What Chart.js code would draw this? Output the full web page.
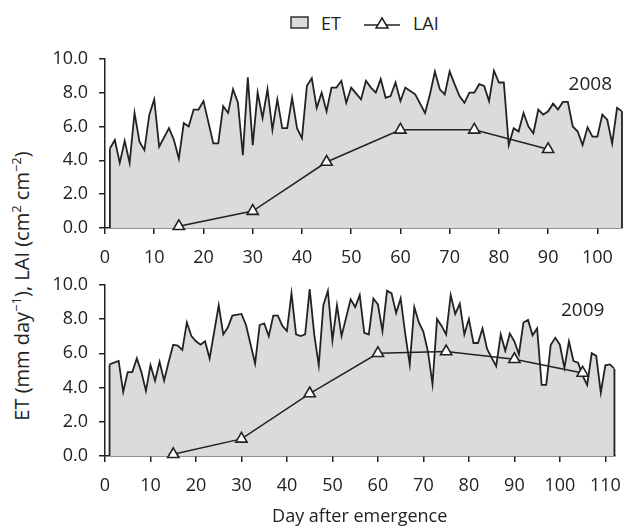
<!DOCTYPE html>
<html>
<head>
<meta charset="utf-8">
<script src="https://cdn.jsdelivr.net/npm/chart.js@4.4.1/dist/chart.umd.min.js"></script>
<style>
  body { margin: 0; background: #fff; }
  #wrap { position: relative; width: 634px; height: 529px; font-family: 'Open Sans', sans-serif; color: #222; }
  canvas { position: absolute; left: 0; }
  #legend { position: absolute; top: 11px; left: 290px; font-size: 18px; display: flex; align-items: center; white-space: nowrap; }
  #legend svg { display: block; }
  #ytitle { position: absolute; left: 21px; top: 286px; transform: translate(-50%, -50%) rotate(-90deg); font-size: 20px; white-space: nowrap; }
  #ytitle sup { font-size: 13px; }
</style>
</head>
<body>
<div id="wrap">
  <div id="legend">
    <svg width="20" height="14"><rect x="1" y="1" width="17" height="11" fill="#dadbdd" stroke="#333" stroke-width="1.5"/></svg>
    <span style="margin-left:11px">ET</span>
    <svg width="38" height="16" style="margin-left:22px"><line x1="1" y1="10" x2="37" y2="10" stroke="#222" stroke-width="1.5"/><polygon points="19,3 25,13 13,13" fill="#fff" stroke="#222" stroke-width="1.5"/></svg>
    <span style="margin-left:12px">LAI</span>
  </div>
  <div id="ytitle">ET (mm day<sup>−1</sup>), LAI (cm<sup>2</sup> cm<sup>−2</sup>)</div>
  <canvas id="chart2008" width="634" height="243" style="top:37px"></canvas>
  <canvas id="chart2009" width="634" height="266" style="top:263px"></canvas>
</div>
<script>
// ET (mm/day) and LAI by day after emergence

// 2008
const etDays2008 = [1, 2, 3, 4, 5, 6, 7, 8, 9, 10, 11, 13, 14, 15, 16, 17, 18, 19, 20, 22,
  23, 24, 25, 26, 27, 28, 29, 30, 31, 32, 33, 34, 35, 36, 37, 38, 39, 40, 41, 42,
  43, 44, 45, 46, 47, 48, 49, 50, 52, 53, 54, 55, 56, 57, 58, 59, 60, 61, 62, 63,
  65, 66, 67, 68, 69, 70, 71, 72, 73, 74, 75, 76, 77, 78, 79, 80, 81, 82, 83, 84,
  85, 86, 87, 88, 89, 90, 91, 92, 93, 94, 95, 96, 97, 98, 99, 100, 101, 102, 103, 104, 105];
const etValues2008 = [4.7, 5.2, 3.85, 5.15, 3.85, 6.8, 5.1, 4.6, 6.7, 7.6, 4.8, 5.9, 5.2, 4.1, 6.2, 6.0, 7.0, 7.0, 7.5, 5.0,
  5.0, 7.2, 6.8, 8.2, 7.4, 4.3, 8.9, 4.9, 8.0, 6.5, 8.2, 5.8, 7.6, 5.9, 5.9, 7.7, 5.9, 5.3, 8.4, 8.85,
  7.1, 8.0, 6.9, 8.3, 8.3, 8.7, 7.4, 8.3, 7.6, 8.7, 8.3, 8.0, 8.8, 7.7, 7.8, 8.6, 7.5, 8.3, 8.1, 7.9,
  6.8, 7.9, 9.25, 8.2, 7.9, 9.25, 8.5, 7.8, 7.4, 8.0, 8.0, 8.5, 8.4, 7.5, 9.3, 8.6, 8.6, 4.9, 5.9, 5.7,
  6.8, 6.0, 5.6, 7.0, 6.7, 6.9, 7.35, 7.0, 7.45, 7.45, 6.0, 5.7, 4.9, 5.95, 5.4, 5.4, 6.7, 6.4, 5.0, 7.1, 6.9];
const laiDays2008 = [15, 30, 45, 60, 75, 90];
const laiValues2008 = [0.1, 1.0, 3.9, 5.8, 5.8, 4.65];

// 2009
const etDays2009 = [1, 3, 4, 5, 6, 7, 8, 9, 10, 11, 12, 13, 14, 15, 16, 17, 18, 19, 20, 21,
  22, 23, 25, 26, 27, 28, 30, 31, 33, 34, 35, 36, 37, 38, 39, 40, 41, 42, 43, 44,
  45, 46, 47, 48, 49, 50, 51, 52, 54, 55, 56, 57, 58, 59, 60, 61, 62, 63, 64, 65,
  66, 67, 68, 69, 70, 71, 72, 73, 74, 75, 76, 77, 78, 79, 80, 81, 82, 83, 84, 85,
  86, 87, 88, 89, 90, 91, 92, 93, 94, 95, 96, 97, 98, 99, 100, 101, 102, 103, 104, 105,
  106, 107, 108, 109, 110, 111, 112];
const etValues2009 = [5.35, 5.55, 3.75, 4.9, 4.9, 5.7, 4.9, 3.8, 5.3, 4.4, 5.5, 4.4, 5.5, 6.5, 6.45, 6.2, 7.8, 7.0, 6.7, 6.5,
  6.7, 5.7, 8.8, 7.1, 7.5, 8.2, 8.3, 7.65, 5.4, 7.65, 7.75, 7.0, 8.2, 8.2, 7.6, 7.3, 9.5, 7.1, 7.0, 7.1,
  9.75, 7.1, 5.3, 8.8, 9.65, 6.75, 8.8, 7.0, 9.15, 8.7, 9.4, 7.2, 7.1, 9.2, 8.85, 7.3, 9.65, 9.5, 8.35, 9.2,
  7.15, 5.35, 8.7, 7.8, 7.25, 6.1, 4.2, 8.0, 7.6, 7.1, 9.4, 8.3, 8.9, 7.1, 8.0, 6.6, 6.6, 7.45, 6.25, 5.75,
  5.25, 7.1, 6.15, 7.15, 6.7, 5.95, 7.8, 7.95, 7.05, 7.45, 4.15, 4.15, 6.5, 6.9, 6.5, 5.15, 6.7, 5.55, 5.45, 4.7,
  4.15, 6.0, 5.85, 3.7, 5.3, 5.35, 5.1];
const laiDays2009 = [15, 30, 45, 60, 75, 90, 105];
const laiValues2009 = [0.1, 1.0, 3.65, 6.0, 6.1, 5.65, 4.85];

// axis ticks
const yTicks = [0, 2, 4, 6, 8, 10];
const xTicks2008 = [0, 10, 20, 30, 40, 50, 60, 70, 80, 90, 100];
const xTicks2009 = [0, 10, 20, 30, 40, 50, 60, 70, 80, 90, 100, 110];

const ink = '#222';
const fontSpec = { family: "'Open Sans', sans-serif", size: 18 };

function toPoints(xs, ys) {
  return xs.map((x, i) => ({ x: x, y: ys[i] }));
}

// closes the ET area with vertical edges down to zero, and writes the year
const panelPlugin = {
  id: 'panelExtras',
  afterDatasetDraw(chart, args) {
    if (args.meta.label !== 'ET') return;
    const pts = args.meta.data;
    if (!pts.length) return;
    const y0 = chart.scales.y.getPixelForValue(0);
    const ctx = chart.ctx;
    ctx.save();
    ctx.strokeStyle = ink;
    ctx.lineWidth = 1.8;
    ctx.beginPath();
    ctx.moveTo(pts[0].x, pts[0].y);
    ctx.lineTo(pts[0].x, y0);
    ctx.moveTo(pts[pts.length - 1].x, pts[pts.length - 1].y);
    ctx.lineTo(pts[pts.length - 1].x, y0);
    ctx.stroke();
    ctx.restore();
  },
  afterDraw(chart, args, opts) {
    const ctx = chart.ctx;
    ctx.save();
    ctx.font = "19px 'Open Sans', sans-serif";
    ctx.fillStyle = ink;
    ctx.textAlign = 'right';
    ctx.textBaseline = 'middle';
    ctx.fillText(opts.year, chart.chartArea.right - 10, chart.scales.y.getPixelForValue(8.5));
    ctx.restore();
  }
};

function drawPanel(id, year, etDays, etValues, laiDays, laiValues, xMax, xTicks, xAxisHeight, showTitle) {
  const ctx = document.getElementById(id).getContext('2d');
  return new Chart(ctx, {
    type: 'line',
    data: {
      datasets: [{
        label: 'LAI',
        data: toPoints(laiDays, laiValues),
        borderColor: ink,
        borderWidth: 1.5,
        pointStyle: 'triangle',
        pointRadius: 6.5,
        pointBackgroundColor: '#fff',
        pointBorderColor: ink,
        pointBorderWidth: 1.6,
        tension: 0,
        clip: false
      }, {
        label: 'ET',
        data: toPoints(etDays, etValues),
        borderColor: ink,
        borderWidth: 1.8,
        backgroundColor: '#dadbdd',
        fill: 'origin',
        pointRadius: 0,
        tension: 0
      }]
    },
    options: {
      responsive: false,
      animation: false,
      events: [],
      layout: { padding: { top: 0, right: 12, left: 0, bottom: 0 } },
      plugins: {
        legend: { display: false },
        tooltip: { enabled: false },
        panelExtras: { year: year }
      },
      scales: {
        x: {
          type: 'linear',
          min: 0,
          max: xMax,
          afterFit: function(scale) { scale.height = xAxisHeight; },
          afterBuildTicks: function(scale) { scale.ticks = xTicks.map(v => ({ value: v })); },
          border: { display: true, color: ink, width: 1.5 },
          grid: { display: true, drawOnChartArea: false, drawTicks: true, tickLength: 6, color: ink, lineWidth: 1.5 },
          ticks: { color: ink, font: fontSpec, padding: 13, maxRotation: 0 },
          title: {
            display: showTitle,
            text: 'Day after emergence',
            color: ink,
            font: fontSpec,
            padding: { top: 0, bottom: 1 }
          }
        },
        y: {
          min: 0,
          max: 10,
          afterFit: function(scale) { scale.width = 105; },
          afterBuildTicks: function(scale) { scale.ticks = yTicks.map(v => ({ value: v })); },
          border: { display: true, color: ink, width: 1.5 },
          grid: { display: true, drawOnChartArea: false, drawTicks: true, tickLength: 6, color: ink, lineWidth: 1.5 },
          ticks: {
            color: ink,
            font: fontSpec,
            padding: 11,
            callback: function(value) { return value.toFixed(1); }
          }
        }
      }
    },
    plugins: [panelPlugin]
  });
}

drawPanel('chart2008', '2008', etDays2008, etValues2008, laiDays2008, laiValues2008, 105, xTicks2008, 52, false);
drawPanel('chart2009', '2009', etDays2009, etValues2009, laiDays2009, laiValues2009, 112, xTicks2009, 73, true);
</script>
</body>
</html>
